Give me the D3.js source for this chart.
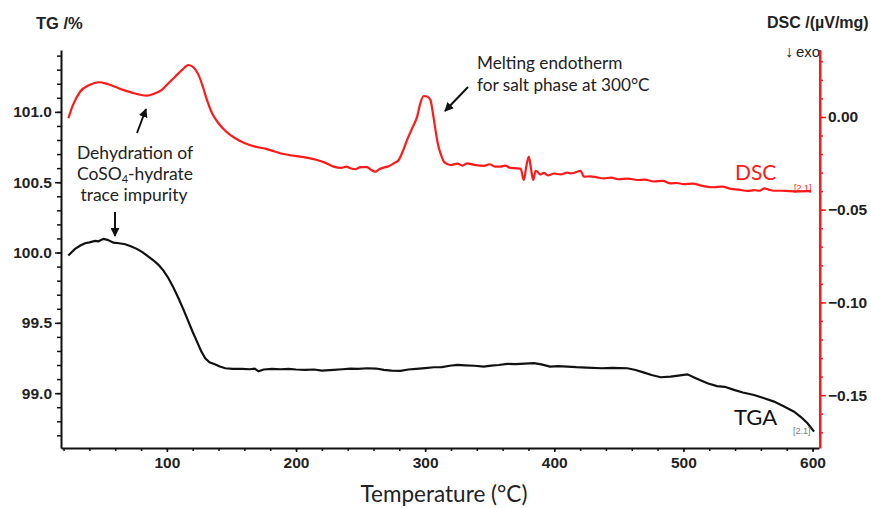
<!DOCTYPE html>
<html><head><meta charset="utf-8">
<script src="https://cdn.jsdelivr.net/npm/d3@7"></script>
<style>body{margin:0;background:#fff}svg{display:block}</style>
</head><body>
<svg id="chart" width="871" height="508"></svg>
<script>
// ---- data ----
const dscTemp = [23.7,27,32.8,40,47,53,59.9,66,72.9,79,84.5,90,96.1,101,106.4,112,116.7,120.5,124.5,128,131,135,140,146,152.9,160,168.4,176.2,183,190.4,197,203.3,210,216.3,222,229.1,235,239,242.1,246,250,255,258,261.5,264.5,267.9,271,275.7,279.5,283,286,290,293.8,296.5,298.9,301.5,304.1,306,308,310,311.9,315,319.6,325,329,332.6,338,345.4,350,354,358.4,362,366,371.3,374,376.4,378.5,380.3,382,383.7,385.5,386.8,389,391.9,395,400,405,410,412.6,416,420.4,422.9,428,433,438.4,444,450,457,464.3,470,477,484,490.1,495,500,507,515,523.7,530,537,543,549.6,555,559,562.5,566,570,575.5,582,590,598.8];
const dscValue = [-0.0007,0.006,0.0136,0.0172,0.0187,0.018,0.0163,0.0146,0.0131,0.012,0.0115,0.0125,0.0146,0.018,0.0217,0.0255,0.028,0.0268,0.0227,0.016,0.0092,0.002,-0.0034,-0.008,-0.0115,-0.014,-0.016,-0.0171,-0.0185,-0.02,-0.0208,-0.0214,-0.0222,-0.0232,-0.0245,-0.0268,-0.0275,-0.0268,-0.0277,-0.0282,-0.027,-0.0271,-0.0285,-0.0295,-0.0282,-0.0273,-0.0268,-0.025,-0.0232,-0.018,-0.0124,-0.006,0.0002,0.008,0.0113,0.011,0.0092,0.002,-0.007,-0.015,-0.0196,-0.0245,-0.0259,-0.0252,-0.0262,-0.025,-0.0258,-0.0264,-0.0255,-0.0268,-0.0268,-0.0262,-0.0275,-0.0277,-0.028,-0.034,-0.026,-0.0214,-0.028,-0.034,-0.029,-0.0295,-0.031,-0.0302,-0.0315,-0.0305,-0.031,-0.03,-0.0304,-0.03,-0.029,-0.0322,-0.032,-0.0326,-0.0331,-0.0327,-0.0336,-0.0332,-0.034,-0.0338,-0.0348,-0.0345,-0.0358,-0.0356,-0.0362,-0.036,-0.0372,-0.0379,-0.0376,-0.0388,-0.0392,-0.0399,-0.0395,-0.0398,-0.0385,-0.0392,-0.0398,-0.0398,-0.04,-0.0401,-0.0399];
const tgaTemp = [23.7,26,28.9,33,36.7,40,44.4,47,50.9,54,58.6,63,67.7,72,76.7,81,85.7,89.5,93.5,97.5,101.2,105,109,113,116.7,120,123.3,126.5,129.7,133,137.1,141,145.2,151,158.1,164,168,171,175,181.4,188,194.3,200,207.2,214,220,229.1,236,242,248,255,262,268,274,280.9,287,293,300,306.7,313,319,324.8,331,338,345.4,351,357,363.6,370,377,384.2,390,396.7,403,410.1,417,425,436.7,445,456.6,463,469,475.4,482.4,490,496,503.1,510,518.6,526,532,539.2,546,554.7,562,570.2,578,585.7,591,596.1,601.2];
const tgaValue = [99.978,100.0,100.026,100.05,100.066,100.072,100.083,100.08,100.097,100.09,100.07,100.066,100.059,100.045,100.026,100.003,99.971,99.945,99.912,99.87,99.817,99.752,99.675,99.59,99.509,99.435,99.366,99.3,99.248,99.22,99.206,99.19,99.177,99.172,99.172,99.17,99.175,99.155,99.168,99.172,99.17,99.172,99.168,99.165,99.168,99.16,99.165,99.17,99.175,99.172,99.177,99.175,99.165,99.16,99.158,99.168,99.172,99.178,99.184,99.185,99.195,99.201,99.198,99.195,99.189,99.196,99.2,99.208,99.206,99.21,99.213,99.205,99.189,99.192,99.189,99.185,99.182,99.177,99.18,99.177,99.165,99.148,99.129,99.113,99.118,99.125,99.134,99.105,99.07,99.05,99.045,99.023,99.005,98.987,98.965,98.94,98.905,98.868,98.83,98.786,98.726];
const tempTicks = [100,200,300,400,500,600];
const tgTicks = [99.0,99.5,100.0,100.5,101.0];
const dscTicks = [0.00,-0.05,-0.10,-0.15];

// ---- scales ----
const svg = d3.select("#chart");
const L = 61, R = 819, T = 50, B = 448;
const x = d3.scaleLinear().domain([18,605]).range([L,R]);
const yTG = d3.scaleLinear().domain([98.61,101.44]).range([B,T]);
const yDSC = d3.scaleLinear().domain([-0.1785,0.0361]).range([B,T]);

const tickFont = "'Liberation Sans', Arial, sans-serif";
const annoFont = "Lato, 'Open Sans', sans-serif";

// ---- arrow marker ----
svg.append("defs").append("marker").attr("id","ah")
  .attr("viewBox","0 0 10 10").attr("refX",9).attr("refY",5)
  .attr("markerWidth",9).attr("markerHeight",9).attr("markerUnits","userSpaceOnUse")
  .attr("orient","auto")
  .append("path").attr("d","M0,0L10,5L0,10z").attr("fill","#111");

// ---- curves ----
const dscData = dscTemp.map((t,i)=>[t,dscValue[i]]);
const tgaData = tgaTemp.map((t,i)=>[t,tgaValue[i]]);
svg.append("path").datum(dscData)
  .attr("d", d3.line().x(d=>x(d[0])).y(d=>yDSC(d[1])).curve(d3.curveMonotoneX))
  .attr("fill","none").attr("stroke","#ff1a1a").attr("stroke-width",2.2);
svg.append("path").datum(tgaData)
  .attr("d", d3.line().x(d=>x(d[0])).y(d=>yTG(d[1])).curve(d3.curveLinear))
  .attr("fill","none").attr("stroke","#111").attr("stroke-width",2.2);

// ---- axes ----
function styleAxis(g, col, labelCol){
  g.selectAll("path.domain").attr("stroke",col).attr("stroke-width",2);
  g.selectAll(".tick line").attr("stroke",col).attr("stroke-width",1.5);
  g.selectAll(".tick text").attr("fill",labelCol).style("font-family",tickFont)
    .style("font-size","15.5px").style("font-weight","bold");
}
// left TG axis
const gl = svg.append("g").attr("transform",`translate(${L},0)`);
gl.call(d3.axisLeft(yTG).tickValues(d3.range(98.7,101.45,0.1)).tickFormat("").tickSize(4).tickSizeOuter(0));
gl.call(g=>styleAxis(g,"#111","#222"));
const gl2 = svg.append("g").attr("transform",`translate(${L},0)`);
gl2.call(d3.axisLeft(yTG).tickValues(tgTicks).tickFormat(d3.format(".1f")).tickSize(6).tickPadding(3).tickSizeOuter(0));
gl2.call(g=>styleAxis(g,"#111","#222"));
gl2.select("path.domain").remove();

// bottom axis
const gb = svg.append("g").attr("transform",`translate(0,${B})`);
gb.call(d3.axisBottom(x).tickValues(d3.range(20,601,20)).tickFormat("").tickSize(3).tickSizeOuter(0));
gb.call(g=>styleAxis(g,"#111","#222"));
const gb2 = svg.append("g").attr("transform",`translate(0,${B})`);
gb2.call(d3.axisBottom(x).tickValues(tempTicks).tickFormat(d3.format("d")).tickSize(4).tickPadding(5).tickSizeOuter(0));
gb2.call(g=>styleAxis(g,"#111","#222"));
gb2.select("path.domain").remove();

// right DSC axis (red)
const gr = svg.append("g").attr("transform",`translate(${R+1},0)`);
gr.call(d3.axisRight(yDSC).tickValues(d3.range(-17,4,1).map(v=>v/100)).tickFormat("").tickSize(3).tickSizeOuter(0));
gr.call(g=>styleAxis(g,"#ff1a1a","#222"));
const gr2 = svg.append("g").attr("transform",`translate(${R+1},0)`);
gr2.call(d3.axisRight(yDSC).tickValues(dscTicks).tickFormat(d3.format(".2f")).tickSize(6).tickPadding(2).tickSizeOuter(0));
gr2.call(g=>styleAxis(g,"#ff1a1a","#222"));
gr2.select("path.domain").remove();

// ---- axis titles ----
svg.append("text").attr("x",36).attr("y",29).text("TG /%")
  .style("font-family",tickFont).style("font-size","16.5px").style("font-weight","bold").attr("fill","#222");
svg.append("text").attr("x",767).attr("y",28).text("DSC /(µV/mg)")
  .style("font-family",tickFont).style("font-size","16px").style("font-weight","bold").attr("fill","#222");
const exo = svg.append("text").attr("x",785).attr("y",57)
  .style("font-family",tickFont).style("font-size","15px").attr("fill","#222");
exo.append("tspan").style("font-weight","bold").style("font-size","16px").text("↓");
exo.append("tspan").attr("dx",3).text("exo");
svg.append("text").attr("x",444).attr("y",502).attr("text-anchor","middle").text("Temperature (°C)")
  .style("font-family",annoFont).style("font-size","22.5px").attr("fill","#222");

// redraw red axis line over "exo"
svg.append("rect").attr("x",R+2).attr("y",T-14).attr("width",10).attr("height",14).attr("fill","#fff");
svg.append("line").attr("x1",R+1).attr("x2",R+1).attr("y1",T).attr("y2",B)
  .attr("stroke","#ff1a1a").attr("stroke-width",2);

// ---- annotations ----
const dh = svg.append("text").attr("text-anchor","middle")
  .style("font-family",annoFont).style("font-size","17.5px").attr("fill","#222");
dh.append("tspan").attr("x",135).attr("y",159).text("Dehydration of");
const l2 = dh.append("tspan").attr("x",135).attr("y",180);
l2.append("tspan").text("CoSO");
l2.append("tspan").attr("font-size","11px").attr("dy",3).text("4");
l2.append("tspan").attr("dy",-3).text("-hydrate");
dh.append("tspan").attr("x",134).attr("y",201).text("trace impurity");

const mt = svg.append("text")
  .style("font-family",annoFont).style("font-size","17.2px").attr("fill","#222");
mt.append("tspan").attr("x",477).attr("y",69).text("Melting endotherm");
mt.append("tspan").attr("x",477).attr("y",91).text("for salt phase at 300°C");

const arrows = [[137,133,146,109],[115,212,115,236],[468,87,445,111]];
svg.selectAll("line.arrow").data(arrows).enter().append("line").attr("class","arrow")
  .attr("x1",d=>d[0]).attr("y1",d=>d[1]).attr("x2",d=>d[2]).attr("y2",d=>d[3])
  .attr("stroke","#111").attr("stroke-width",2).attr("marker-end","url(#ah)");

svg.append("text").attr("x",735).attr("y",180).text("DSC")
  .style("font-family",annoFont).style("font-size","21px").attr("fill","#ff1a1a");
svg.append("text").attr("x",734).attr("y",425).text("TGA")
  .style("font-family",annoFont).style("font-size","22px").attr("fill","#111");
svg.append("text").attr("x",794).attr("y",191).text("[2.1]")
  .style("font-family",tickFont).style("font-size","9px").attr("fill","#ff1a1a");
svg.append("text").attr("x",793).attr("y",434).text("[2.1]")
  .style("font-family",tickFont).style("font-size","9px").attr("fill","#777");
</script>
</body></html>
